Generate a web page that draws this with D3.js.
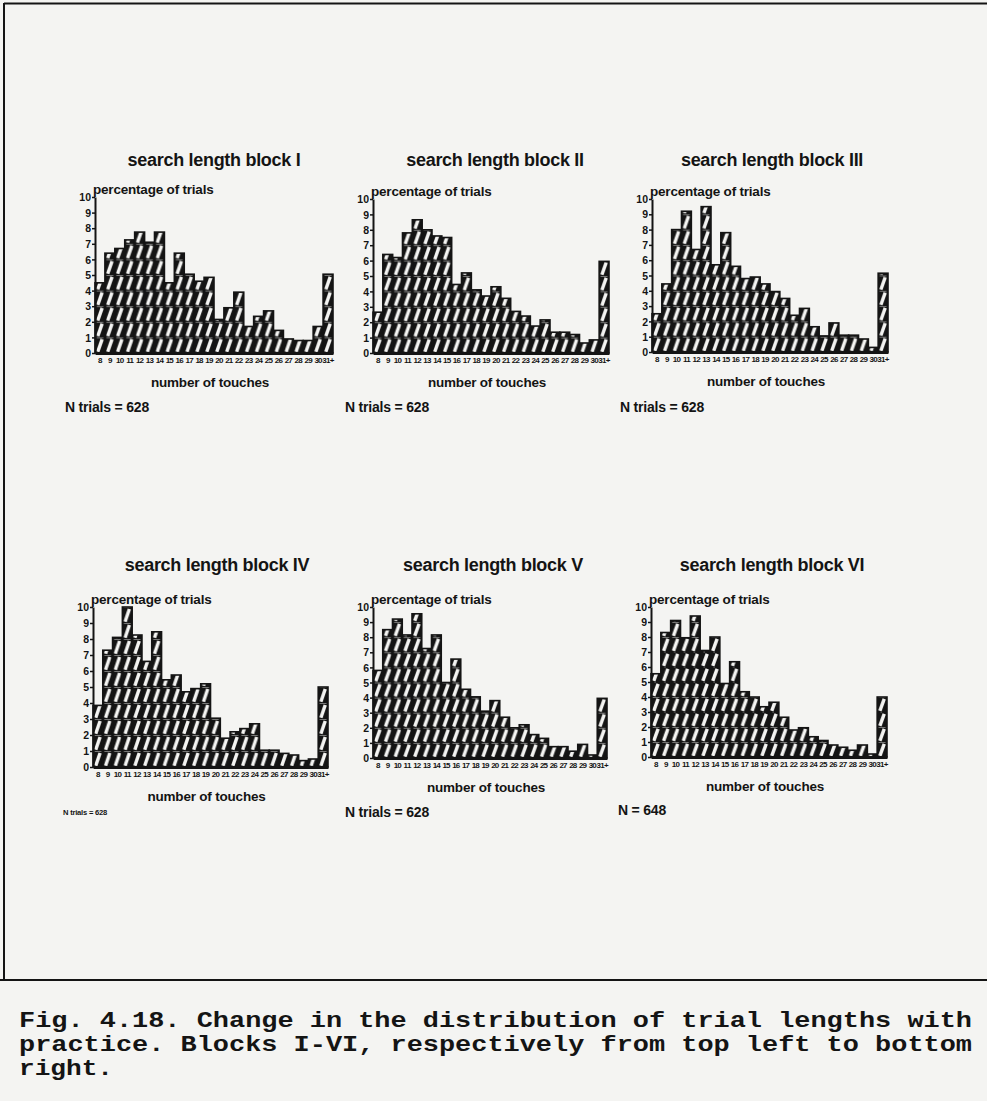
<!DOCTYPE html>
<html><head><meta charset="utf-8">
<script src="https://cdnjs.cloudflare.com/ajax/libs/d3/7.8.5/d3.min.js"></script>
<style>html,body{margin:0;padding:0;background:#f4f4f2;} svg{display:block}</style>
</head><body>
<script>
// ---- data ----
const categories = ["8","9","10","11","12","13","14","15","16","17","18","19","20","21","22","23","24","25","26","27","28","29","30","31+"];
const blockI   = [4.5, 6.4, 6.7, 7.25, 7.75, 7.1, 7.75, 4.5, 6.4, 5.05, 4.6, 4.85, 2.15, 2.9, 3.9, 1.7, 2.35, 2.7, 1.45, 0.9, 0.8, 0.8, 1.7, 5.05];
const blockII  = [2.65, 6.4, 6.2, 7.8, 8.65, 8.0, 7.6, 7.5, 4.45, 5.2, 4.1, 3.7, 4.3, 3.55, 2.7, 2.4, 1.75, 2.15, 1.35, 1.35, 1.2, 0.65, 0.85, 5.95];
const blockIII = [2.5, 4.45, 8.0, 9.2, 6.7, 9.5, 5.7, 7.8, 5.6, 4.8, 4.9, 4.45, 3.95, 3.5, 2.4, 2.85, 1.65, 1.05, 1.9, 1.1, 1.1, 0.85, 0.3, 5.15];
const blockIV  = [3.85, 7.3, 8.1, 10.0, 8.25, 6.6, 8.45, 5.45, 5.75, 4.7, 4.9, 5.2, 3.05, 1.8, 2.2, 2.4, 2.7, 1.05, 1.05, 0.85, 0.75, 0.4, 0.5, 5.0];
const blockV   = [5.8, 8.5, 9.2, 8.15, 9.55, 7.25, 8.15, 5.0, 6.55, 4.55, 4.05, 3.1, 3.8, 2.7, 2.0, 2.2, 1.55, 1.3, 0.75, 0.75, 0.45, 0.9, 0.2, 3.95];
const blockVI  = [5.55, 8.3, 9.1, 7.95, 9.4, 7.1, 8.0, 4.9, 6.35, 4.35, 4.0, 3.35, 3.65, 2.65, 1.8, 1.95, 1.35, 1.1, 0.8, 0.65, 0.45, 0.8, 0.2, 4.0];
const yTicks = [0,1,2,3,4,5,6,7,8,9,10];
const blockNames = ["I","II","III","IV","V","VI"];
const titlePrefix = "search length block ";
const yAxisTitle = "percentage of trials";
const xAxisTitle = "number of touches";
const nLabels = ["N trials = 628","N trials = 628","N trials = 628","N trials = 628","N trials = 628","N = 648"];
const captionLines = [
  "Fig. 4.18. Change in the distribution of trial lengths with",
  "practice. Blocks I-VI, respectively from top left to bottom",
  "right."
];

// ---- layout ----
const seriesList = [blockI, blockII, blockIII, blockIV, blockV, blockVI];
const layout = [
  {x0:95,  x1:333, y0:353, y1:197, tx:214, ty:166, nx:65,  ny:412, nfs:14},
  {x0:373, x1:609, y0:353, y1:199, tx:495, ty:166, nx:345, ny:412, nfs:14},
  {x0:652, x1:888, y0:352, y1:199, tx:772, ty:166, nx:620, ny:412, nfs:14},
  {x0:93,  x1:328, y0:767, y1:607, tx:217, ty:571, nx:63,  ny:815, nfs:7, nlen:44},
  {x0:373, x1:607, y0:758, y1:607, tx:493, ty:571, nx:345, ny:817, nfs:14},
  {x0:651, x1:887, y0:757, y1:607, tx:772, ty:571, nx:618, ny:815, nfs:14}
];
const W = 987, H = 1101, ink = "#141414", paper = "#f4f4f2";
const sans = "'Liberation Sans', Arial, sans-serif";

const svg = d3.select("body").append("svg").attr("width", W).attr("height", H)
  .style("background", paper);
const defs = svg.append("defs");

// frame
svg.append("line").attr("x1",4).attr("x2",W).attr("y1",3.5).attr("y2",3.5).attr("stroke",ink).attr("stroke-width",2);
svg.append("line").attr("x1",4).attr("x2",4).attr("y1",3).attr("y2",980).attr("stroke",ink).attr("stroke-width",2);
svg.append("line").attr("x1",0).attr("x2",W).attr("y1",980).attr("y2",980).attr("stroke",ink).attr("stroke-width",2);

seriesList.forEach((vals, i) => {
  const L = layout[i];
  const x = d3.scaleBand().domain(categories).range([L.x0, L.x1]).paddingInner(0).paddingOuter(0);
  const y = d3.scaleLinear().domain([0, 10]).range([L.y0, L.y1]);
  const g = svg.append("g");
  const step = x.step(), unit = y(0) - y(1);

  // hatch pattern aligned with the bars
  const pat = defs.append("pattern").attr("id", "hatch" + i)
    .attr("patternUnits", "userSpaceOnUse")
    .attr("x", L.x0).attr("y", L.y0).attr("width", step).attr("height", unit);
  pat.append("rect").attr("width", step).attr("height", unit).attr("fill", ink);
  pat.append("line")
    .attr("x1", step * 0.28).attr("y1", unit * 0.92)
    .attr("x2", step * 0.72).attr("y2", unit * 0.12)
    .attr("stroke", paper).attr("stroke-width", 3.4);
  pat.append("line")
    .attr("x1", step * 0.15).attr("y1", unit * 0.02)
    .attr("x2", step * 0.85).attr("y2", unit * 0.02)
    .attr("stroke", paper).attr("stroke-width", 0.9).attr("opacity", 0.6);

  // bars
  g.selectAll("rect.bar").data(vals).join("rect").attr("class", "bar")
    .attr("x", (d, j) => x(categories[j]))
    .attr("width", step)
    .attr("y", d => y(d))
    .attr("height", d => y(0) - y(d))
    .attr("fill", "url(#hatch" + i + ")")
    .attr("stroke", ink).attr("stroke-width", 1.6);

  // y axis
  const ya = g.append("g").attr("transform", `translate(${L.x0},0)`)
    .call(d3.axisLeft(y).tickValues(yTicks).tickSize(3).tickSizeOuter(0).tickPadding(1));
  ya.select(".domain").attr("stroke", ink).attr("stroke-width", 2);
  ya.selectAll(".tick line").attr("stroke", ink).attr("stroke-width", 1.5);
  ya.selectAll(".tick text").attr("fill", ink).style("font", `bold 10.5px ${sans}`).attr("dy", "0.35em");

  // x axis
  const xa = g.append("g").attr("transform", `translate(0,${L.y0})`)
    .call(d3.axisBottom(x).tickSize(0).tickSizeOuter(0).tickPadding(4));
  xa.select(".domain").attr("stroke", ink).attr("stroke-width", 3.2);
  xa.selectAll(".tick text").attr("fill", ink).style("font", `bold 8px ${sans}`).style("letter-spacing", "-0.7px");

  // texts
  g.append("text").attr("x", L.tx).attr("y", L.ty).attr("text-anchor", "middle")
    .attr("fill", ink).style("font", `bold 18px ${sans}`).style("letter-spacing", "-0.3px")
    .text(titlePrefix + blockNames[i]);
  g.append("text").attr("x", L.x0 - 2).attr("y", L.y1 - 3)
    .attr("fill", ink).style("font", `bold 13.5px ${sans}`).style("letter-spacing", "-0.2px")
    .text(yAxisTitle);
  g.append("text").attr("x", (L.x0 + L.x1) / 2 - 4).attr("y", L.y0 + 34).attr("text-anchor", "middle")
    .attr("fill", ink).style("font", `bold 13.5px ${sans}`).style("letter-spacing", "-0.2px")
    .text(xAxisTitle);
  const nt = g.append("text").attr("x", L.nx).attr("y", L.ny)
    .attr("fill", ink).style("font", `bold ${L.nfs}px ${sans}`).style("letter-spacing", "-0.2px")
    .text(nLabels[i]);
  if (L.nlen) nt.attr("textLength", L.nlen).attr("lengthAdjust", "spacingAndGlyphs");
});

// caption (glyphs stretched horizontally to the justified line width)
const capBase = [1027, 1051, 1075];
const capLen = [953, 953, 94];
captionLines.forEach((t, k) => {
  svg.append("text").attr("x", 19).attr("y", capBase[k])
    .attr("fill", ink).style("font", "bold 22px 'Liberation Mono', 'Courier New', monospace")
    .attr("xml:space", "preserve").text(t)
    .attr("textLength", capLen[k]).attr("lengthAdjust", "spacingAndGlyphs");
});
</script>
</body></html>
